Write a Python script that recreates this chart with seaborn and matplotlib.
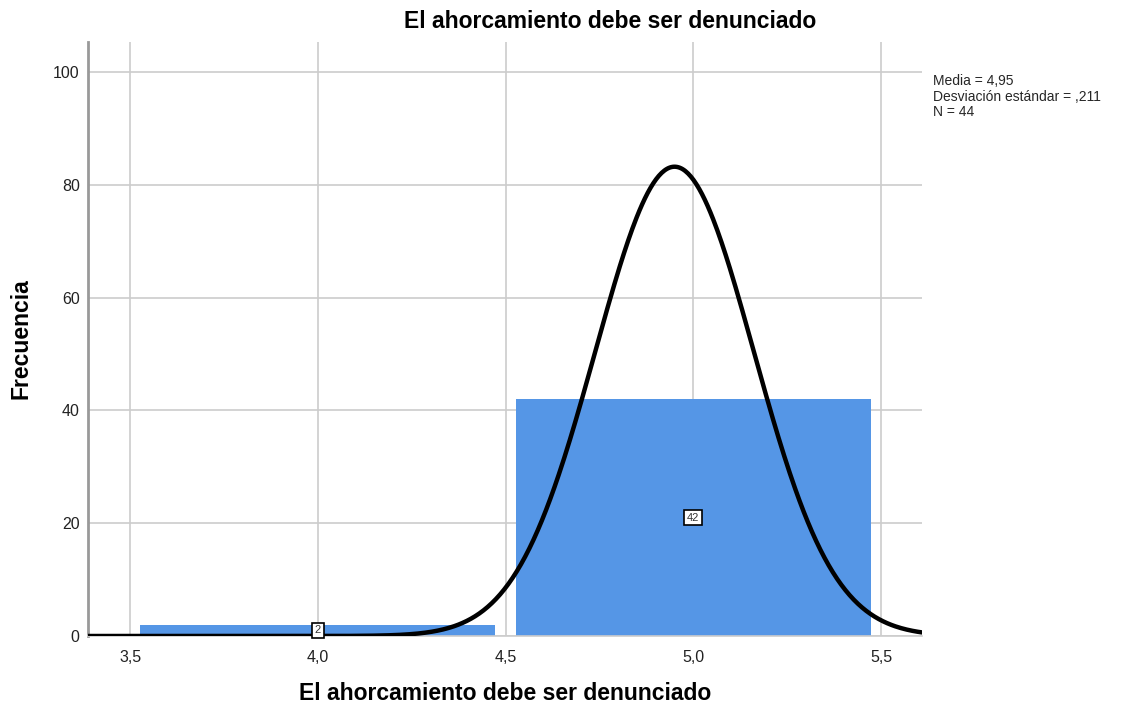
import matplotlib
matplotlib.use("Agg")
import matplotlib.pyplot as plt
import numpy as np
import pandas as pd
import seaborn as sns

# histogram data (value, frequency)
values = [4.0, 5.0]
counts = [2, 42]
bin_edges = [3.5, 4.5, 5.5]

# summary stats shown in the legend box
mean_val = 4.95
sd_val = 0.211
n_val = 44

title = "El ahorcamiento debe ser denunciado"
x_ticks = [3.5, 4.0, 4.5, 5.0, 5.5]
x_tick_labels = ["3,5", "4,0", "4,5", "5,0", "5,5"]
y_ticks = [0, 20, 40, 60, 80, 100]

BAR_COLOR = "#5596e6"


def main() -> None:
  sns.set_theme(style="white")
  plt.rcParams["font.family"] = ["Liberation Sans", "DejaVu Sans"]

  fig = plt.figure(figsize=(11.3, 7.06), dpi=100)
  ax = fig.add_axes([88 / 1130, 1 - 636 / 706, (922 - 88) / 1130, (636 - 42) / 706])

  df = pd.DataFrame({"value": values, "count": counts})
  sns.histplot(
    data=df,
    x="value",
    weights="count",
    bins=bin_edges,
    shrink=0.946,
    color=BAR_COLOR,
    alpha=1,
    edgecolor="none",
    linewidth=0,
    ax=ax,
    zorder=2,
  )

  # fitted normal curve scaled to frequency
  x_min, x_max = 3.388, 5.609
  xs = np.linspace(x_min, x_max, 600)
  bin_w = bin_edges[1] - bin_edges[0]
  ys = n_val * bin_w / (sd_val * np.sqrt(2 * np.pi)) * np.exp(-0.5 * ((xs - mean_val) / sd_val) ** 2)
  sns.lineplot(x=xs, y=ys, color="black", linewidth=3.2, ax=ax, zorder=3)

  # count labels in boxes
  for v, c in zip(values, counts):
    ax.text(
      v, c / 2, str(c), ha="center", va="center", fontsize=8, color="#333333", zorder=4,
      bbox=dict(boxstyle="square,pad=0.25", facecolor="white", edgecolor="black", linewidth=1.2),
    )

  ax.set_xlim(x_min, x_max)
  ax.set_ylim(0, 105.3)
  ax.set_xticks(x_ticks)
  ax.set_xticklabels(x_tick_labels)
  ax.set_yticks(y_ticks)
  ax.tick_params(axis="x", labelsize=11.5, length=0, pad=10, colors="#222222")
  ax.tick_params(axis="y", labelsize=11.5, length=0, pad=6, colors="#222222")
  ax.grid(True, color="#cccccc", linewidth=1.2, zorder=0)
  ax.set_axisbelow(True)

  for side in ["top", "right"]:
    ax.spines[side].set_visible(False)
  ax.spines["left"].set_color("#999999")
  ax.spines["left"].set_linewidth(2)
  ax.spines["bottom"].set_color("#cccccc")
  ax.spines["bottom"].set_linewidth(1.2)

  ax.set_xlabel(title, fontsize=16.5, fontweight="bold", labelpad=12, color="black")
  ax.set_ylabel("Frecuencia", fontsize=16.5, fontweight="bold", labelpad=15, color="black")
  fig.text(610 / 1130, 1 - 22 / 706, title, ha="center", va="center", fontsize=16.5,
           fontweight="bold", color="black")

  stats = f"Media = 4,95\nDesviación estándar = ,211\nN = {n_val}"
  fig.text(933 / 1130, 1 - 74 / 706, stats, ha="left", va="top", fontsize=10, linespacing=1.15)

  fig.savefig("out.png", dpi=100)
  plt.close(fig)


if __name__ == "__main__":
  main()
